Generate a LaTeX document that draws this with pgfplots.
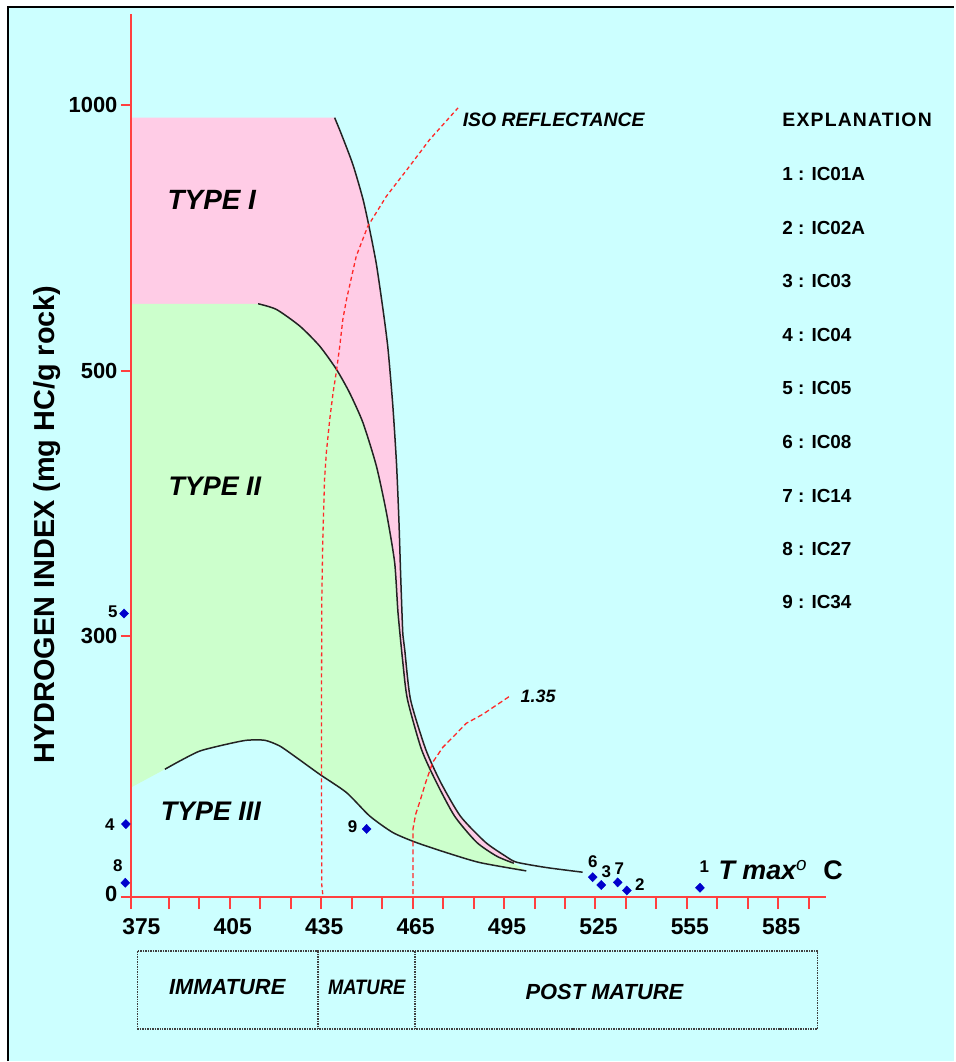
\documentclass[border=0pt]{standalone}
\usepackage{pgfplots}
\pgfplotsset{compat=1.18}
\usepackage{fontspec}
\setmainfont{Liberation Sans}
\definecolor{bgcyan}{RGB}{204,255,255}
\definecolor{pinkI}{RGB}{255,204,230}
\definecolor{greenII}{RGB}{204,255,204}
\definecolor{axred}{RGB}{255,64,64}
\definecolor{dashred}{RGB}{255,40,40}
\definecolor{ptblue}{RGB}{0,0,204}
\definecolor{curvec}{RGB}{35,35,35}
\newcommand{\fs}[1]{\fontsize{#1}{#1}\selectfont}
\begin{document}
\begin{tikzpicture}
\begin{scope}[x=1bp,y=-1bp]
\fill[white] (0,0) rectangle (955,1062);
\fill[bgcyan] (8,7) rectangle (955,1062);
\draw[black, line width=2bp] (8,1062) -- (8,7) -- (955,7);
\end{scope}
\begin{axis}[
  at={(131bp,-898bp)}, anchor=south west,
  x=3.05bp, y=1bp,
  xmin=372.54, xmax=600.6, ymin=0, ymax=1171,
  y coord trafo/.code={\pgfmathparse{#1<300 ? 0.871*#1 : (#1<500 ? 261.3+1.3285*(#1-300) : 527+0.532*(#1-500))}},
  y coord inv trafo/.code={\pgfmathparse{#1<261.3 ? #1/0.871 : (#1<527 ? 300+(#1-261.3)/1.3285 : 500+(#1-527)/0.532)}},
  axis x line=bottom, axis y line=left,
  axis line style={draw=axred, line width=2bp, -},
  axis on top,
  clip=false,
  tick align=outside,
  major tick length=10bp,
  xtick={375,405,...,585},
  xticklabels={375,405,435,465,495,525,555,585},
  xtick style={draw=none},
  xticklabel style={font=\bfseries\fs{23}, yshift=-8bp, xshift=3bp},
  extra x ticks={372.54,385,395,...,595},
  extra x tick labels={},
  extra x tick style={major tick length=12bp, xtick style={draw=axred, line width=2bp}},
  ytick={0,300,500,1000},
  yticklabels={\raisebox{7bp}{0},300,500,1000},
  ytick style={draw=axred, line width=2bp},
  yticklabel style={font=\bfseries\fs{22}},
]
% Type I region (pink)
\addplot[draw=none, fill=pinkI] coordinates {
(372.54,976) (439.4,976) (441.6,945.3) (445.4,887.8) (448.7,822.9) (450.9,765.6) (453.1,700.6) (455.3,614.3) (456.9,542.3) (458.5,473.7) (459.7,430.5) (460.5,387.3) (461.1,344.1) (461.8,300.9) (462.4,284.7) (464.3,227.3) (469.3,169.9) (474.2,132.0) (480.7,93.0) (488.9,63.1) (495.5,47.1) (499.1,40.2)
(498.2,39.0) (492.6,47.1) (486.0,63.1) (478.8,93.0) (472.8,132.0) (467.9,169.9) (463.3,227.3) (461.8,269.5) (460.2,317.8) (459.1,355.5) (456.4,393.1) (453.1,428.2) (448.7,460.8) (444.3,483.4) (440.0,502.4) (434.5,546.2) (428.0,583.8) (420.3,615.2) (414.3,625.9) (372.54,625.9)
} \closedcycle;
% Type II region (green)
\addplot[draw=none, fill=greenII] coordinates {
(372.54,625.9) (414.3,625.9) (420.3,615.2) (428.0,583.8) (434.5,546.2) (440.0,502.4) (444.3,483.4) (448.7,460.8) (453.1,428.2) (456.4,393.1) (459.1,355.5) (460.2,317.8) (461.8,269.5) (463.3,227.3) (467.9,169.9) (472.8,132.0) (478.8,93.0) (486.0,63.1) (492.6,47.1) (498.2,39.0) (502.3,30.2)
(487.0,39.8) (476.0,51.3) (466.2,62.8) (458.5,74.3) (450.9,93.3) (443.3,120.2) (434.5,141.2) (426.9,160.4) (421.4,173.7) (416.5,180.3) (410.5,180.3) (403.9,175.7) (395.2,168.0) (388.6,156.5) (383.7,147.0) (372.54,126)
};
% Type I curve
\addplot[curvec, line width=1.5bp, smooth, tension=0.4] coordinates {
(439.4,976) (441.6,945.3) (445.4,887.8) (448.7,822.9) (450.9,765.6) (453.1,700.6) (455.3,614.3) (456.9,542.3) (458.5,473.7) (459.7,430.5) (460.5,387.3) (461.1,344.1) (461.8,300.9) (462.4,284.7) (464.3,227.3) (469.3,169.9) (474.2,132.0) (480.7,93.0) (488.9,63.1) (495.5,47.1) (499.1,40.2) (508.8,34.1) (520.8,28.7)
};
% Type II curve
\addplot[curvec, line width=1.5bp, smooth, tension=0.4] coordinates {
(414.3,625.9) (420.3,615.2) (428.0,583.8) (434.5,546.2) (440.0,502.4) (444.3,483.4) (448.7,460.8) (453.1,428.2) (456.4,393.1) (459.1,355.5) (460.2,317.8) (461.8,269.5) (463.3,227.3) (467.9,169.9) (472.8,132.0) (478.8,93.0) (486.0,63.1) (492.6,47.1) (498.2,39.0)
};
% Type III curve
\addplot[curvec, line width=1.5bp, smooth, tension=0.4] coordinates {
(383.7,147.0) (388.6,156.5) (395.2,168.0) (403.9,175.7) (410.5,180.3) (416.5,180.3) (421.4,173.7) (426.9,160.4) (434.5,141.2) (443.3,120.2) (450.9,93.3) (458.5,74.3) (466.2,62.8) (476.0,51.3) (487.0,39.8) (502.3,30.2)
};
% Iso reflectance lines
\addplot[dashred, line width=1.3bp, dash pattern=on 4bp off 3bp] coordinates {
(435.5,3.4) (435.2,13.8) (435.1,112.5) (435.1,227.3) (435.2,327.9) (435.5,370.8) (436.1,418.2) (436.7,438.5) (437.8,463.4) (438.9,483.4) (440.0,499.7) (441.1,546.6) (442.1,596.4) (443.3,634.0) (446.5,715.4) (450.3,771.8) (456.4,828.2) (464.0,884.6) (470.6,934.8) (479.9,994.4)
};
\addplot[dashred, line width=1.3bp, dash pattern=on 5bp off 3bp] coordinates {
(465.1,3.4) (465.1,78.1) (466.0,95.3) (467.3,109.1) (469.3,132.0) (471.6,155.0) (474.9,172.2) (479.1,187.1) (482.6,199.8) (488.0,210.1) (496.8,230.8)
};
% Samples
\addplot[only marks, mark=diamond*, mark size=4.6bp, mark options={xscale=1.3}, color=ptblue] coordinates {
(559.3,10.8) (535.3,7.7) (526.9,14) (370.9,84) (370.3,317) (524.1,23) (532.3,17) (370.7,16.5) (449.9,78.4)
};
\end{axis}
\begin{scope}[x=1bp,y=-1bp]
\node[rotate=90, font=\bfseries\fs{29}] at (47,525) {HYDROGEN INDEX (mg HC/g rock)};
\node[font=\bfseries\itshape\fs{28}] at (212,200) {TYPE I};
\node[font=\bfseries\itshape\fs{27}] at (215,487) {TYPE II};
\node[font=\bfseries\itshape\fs{27}] at (211,812) {TYPE III};
\node[anchor=west, inner sep=0pt, font=\bfseries\itshape\fs{19.5}] at (463,120) {ISO REFLECTANCE};
\node[anchor=west, inner sep=0pt, font=\bfseries\itshape\fs{18}] at (521,697) {1.35};
\node[anchor=west, inner sep=0pt, font=\bfseries\itshape\fs{27}] at (719,871) {T max\textsuperscript{\mdseries o}\hspace{0.6em}\upshape C};
\begin{scope}[font=\bfseries\fs{17}]
\node at (113,612) {5};
\node at (110,825) {4};
\node at (118,866.5) {8};
\node at (353,827) {9};
\node at (593.5,862) {6};
\node at (607,872) {3};
\node at (620,869) {7};
\node at (640.5,885.5) {2};
\node at (705,867.5) {1};
\end{scope}
\begin{scope}[font=\bfseries\fs{19}]
\node[anchor=west, inner sep=0pt, font=\bfseries\fs{19.5}\addfontfeature{LetterSpace=6}] at (783,120) {EXPLANATION};
\node[anchor=west, inner sep=0pt] at (783,174) {1 : IC01A};
\node[anchor=west, inner sep=0pt] at (783,228) {2 : IC02A};
\node[anchor=west, inner sep=0pt] at (783,281) {3 : IC03};
\node[anchor=west, inner sep=0pt] at (783,335) {4 : IC04};
\node[anchor=west, inner sep=0pt] at (783,388) {5 : IC05};
\node[anchor=west, inner sep=0pt] at (783,442) {6 : IC08};
\node[anchor=west, inner sep=0pt] at (783,496) {7 : IC14};
\node[anchor=west, inner sep=0pt] at (783,549) {8 : IC27};
\node[anchor=west, inner sep=0pt] at (783,603) {9 : IC34};
\end{scope}
\draw[black!75, line width=1.5bp, densely dotted] (137.8,952) rectangle (818.3,1030);
\draw[black!75, line width=1.5bp, densely dotted] (318.5,952) -- (318.5,1030);
\draw[black!75, line width=1.5bp, densely dotted] (415.2,952) -- (415.2,1030);
\node[font=\bfseries\itshape\fs{22}] at (227.4,988.3) {IMMATURE};
\node[font=\bfseries\itshape\fs{21}, xscale=0.88] at (367,988) {MATURE};
\node[font=\bfseries\itshape\fs{22}] at (605,992.7) {POST MATURE};
\end{scope}
\end{tikzpicture}
\end{document}
